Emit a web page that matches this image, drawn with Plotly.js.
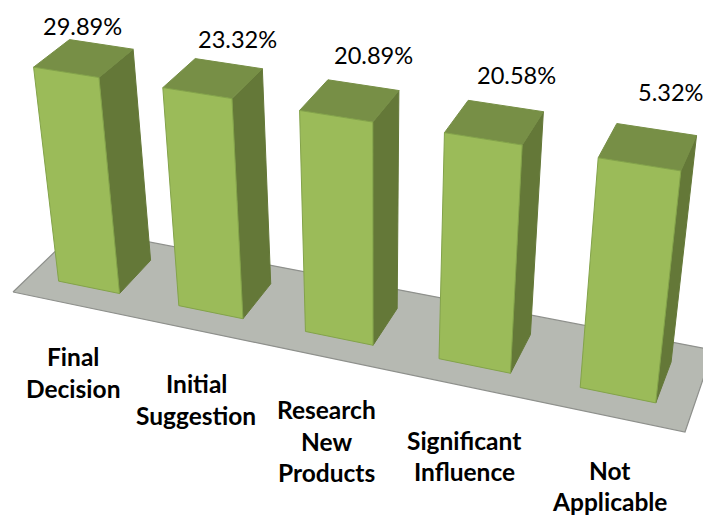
<!DOCTYPE html>
<html><head><meta charset="utf-8">
<script src="https://cdn.plot.ly/plotly-3.0.0.min.js"></script>
<style>html,body{margin:0;padding:0;background:#fff}#c{width:703px;height:518px}</style>
</head><body><div id="c"></div>
<script>
// ---- data ----
const categories = ["Final\nDecision","Initial\nSuggestion","Research\nNew\nProducts","Significant\nInfluence","Not\nApplicable"];
const valueLabels = ["29.89%","23.32%","20.89%","20.58%","5.32%"];
const barHeights = [1.02,1.02,1.015,1.018,1.015]; // drawn height of every box in the picture

// ---- layout / camera ----
const floorCorners = [[13,292],[685,432],[713,350],[79,228.5]];
const verticalVanish = [376,2990];
const heightScale = -0.0725;
const slotWidth = 0.2, barWidth = 0.1026, depthFront = 0.25, depthBack = 0.755;
const valuePos = [[82.5,25.5],[237,38.5],[373,54.5],[516,74.5],[671,91.5]];
const catPos = [[73,356.5],[196,383.5],[326,409.5],[464,440],[609,470]];
const catLine = 31.5, catSize = 24.5, valSize = 23.6;
const fontFace = "Lato, Carlito, sans-serif";
const colors = {front:"#9BBB59", frontEdge:"#83A34A", side:"#647838", top:"#778F46", floor:"#B6B9B2", floorEdge:"#8E908C"};

// homography of the floor square, plus vanishing point for height
const [A,B,C,D] = floorCorners;
const dx1=B[0]-C[0], dx2=D[0]-C[0], sx=A[0]-B[0]+C[0]-D[0];
const dy1=B[1]-C[1], dy2=D[1]-C[1], sy=A[1]-B[1]+C[1]-D[1];
const det=dx1*dy2-dx2*dy1, g=(sx*dy2-dx2*sy)/det, h=(dx1*sy-sx*dy1)/det;
function project(X,Y,Z){
  const k=Z*heightScale;
  const w=g*X+h*Y+1+k;
  const u=(B[0]-A[0]+g*B[0])*X+(D[0]-A[0]+h*D[0])*Y+A[0]+k*verticalVanish[0];
  const v=(B[1]-A[1]+g*B[1])*X+(D[1]-A[1]+h*D[1])*Y+A[1]+k*verticalVanish[1];
  return [u/w,v/w];
}
function face(pts,fill,edge,lw){
  const q=pts.concat([pts[0]]);
  return {type:"scatter",mode:"lines",x:q.map(p=>p[0]),y:q.map(p=>p[1]),fill:"toself",fillcolor:fill,
    line:{color:edge,width:lw},hoverinfo:"skip",showlegend:false};
}
const traces=[face([project(0,0,0),project(1,0,0),project(1,1,0),project(0,1,0)],colors.floor,colors.floorEdge,1.2)];
barHeights.forEach((z,i)=>{
  const c=slotWidth*(i+0.5), x0=c-barWidth/2, x1=c+barWidth/2;
  traces.push(face([project(x1,depthFront,0),project(x1,depthBack,0),project(x1,depthBack,z),project(x1,depthFront,z)],colors.side,colors.side,1));
  traces.push(face([project(x0,depthFront,z),project(x1,depthFront,z),project(x1,depthBack,z),project(x0,depthBack,z)],colors.top,colors.top,1));
  traces.push(face([project(x0,depthFront,0),project(x1,depthFront,0),project(x1,depthFront,z),project(x0,depthFront,z)],colors.front,colors.frontEdge,1));
});
const annotations=[];
valueLabels.forEach((t,i)=>annotations.push({x:valuePos[i][0],y:valuePos[i][1],text:t,showarrow:false,xanchor:"center",yanchor:"middle",
  font:{family:fontFace,size:valSize,color:"#000"}}));
categories.forEach((t,i)=>t.split("\n").forEach((line,j)=>annotations.push({x:catPos[i][0],y:catPos[i][1]+j*catLine,text:"<b>"+line+"</b>",showarrow:false,xanchor:"center",yanchor:"middle",
  font:{family:fontFace,size:catSize,color:"#000"}})));
Plotly.newPlot("c",traces,{
  width:703,height:518,margin:{l:0,r:0,t:0,b:0},paper_bgcolor:"#fff",plot_bgcolor:"#fff",showlegend:false,
  xaxis:{range:[0,703],visible:false,fixedrange:true},
  yaxis:{range:[518,0],visible:false,fixedrange:true},
  annotations:annotations
},{displayModeBar:false,staticPlot:true});
</script></body></html>
